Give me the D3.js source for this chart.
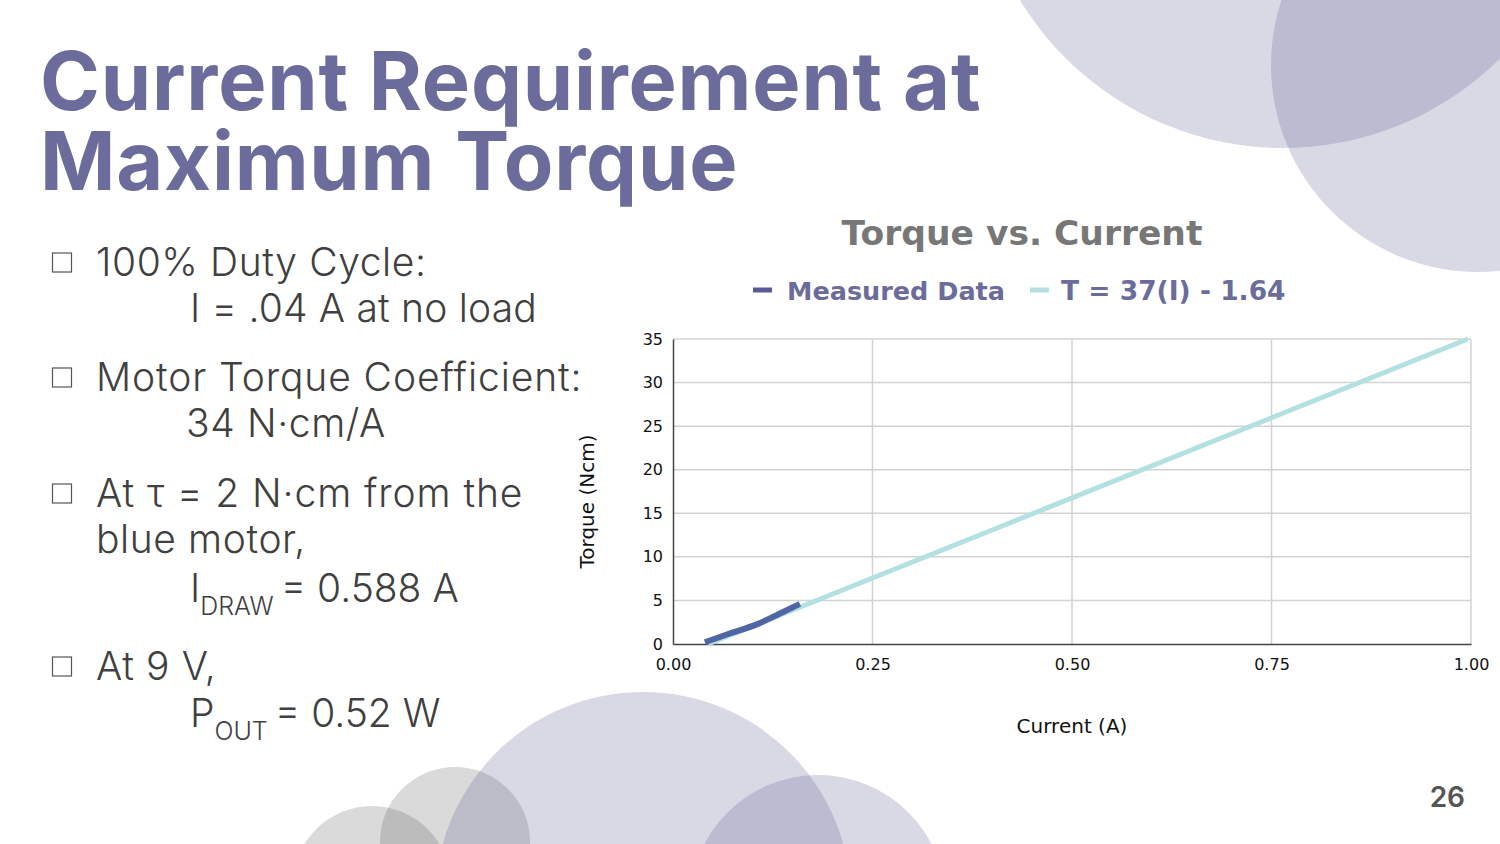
<html>
  <head>
    <meta charset="utf-8">
    <title>Current Requirement at Maximum Torque</title>
    <style>
      body { margin: 0; background: #fff; overflow: hidden; }
    </style>
  </head>
  <body>
  <script src="https://d3js.org/d3.v7.min.js" charset="utf-8"></script>
  <script type="text/javascript">

// measured points (current in A, torque in Ncm)
var measuredI = [0.040, 0.071, 0.105, 0.134, 0.159];
var measuredT = [0.2, 1.2, 2.25, 3.5, 4.6];

// trend line endpoints
var trendI = [0.044, 0.996];
var trendT = [0, 35];

var xTicks = [0, 0.25, 0.5, 0.75, 1.0];
var yTicks = [0, 5, 10, 15, 20, 25, 30, 35];

var seriesNames = ['Measured Data', 'T = 37(I) - 1.64'];
var seriesColors = ['#4f66a4', '#b3e0e0'];

var w = 1500, h = 844;

var svg = d3.select('body').append('svg')
    .attr('width', w)
    .attr('height', h);

// background decoration circles
var purple = 'rgb(84,84,139)', grey = 'rgb(70,70,70)';
var blobs = [
  {cx: 1283, cy: -160, r: 308, c: purple, o: 0.22},
  {cx: 1478, cy: 65, r: 207, c: purple, o: 0.22},
  {cx: 372, cy: 885, r: 79, c: grey, o: 0.2},
  {cx: 455, cy: 842, r: 75, c: grey, o: 0.2},
  {cx: 643, cy: 900, r: 208, c: purple, o: 0.22},
  {cx: 818, cy: 903, r: 128, c: purple, o: 0.22}
];
svg.selectAll('circle.blob')
    .data(blobs)
    .enter()
    .append('circle')
    .attr('class', 'blob')
    .attr('cx', function(d){ return d.cx; })
    .attr('cy', function(d){ return d.cy; })
    .attr('r', function(d){ return d.r; })
    .style('fill', function(d){ return d.c; })
    .style('opacity', function(d){ return d.o; });

// slide title
var titleFont = 'Inter, Roboto, sans-serif';
['Current Requirement at', 'Maximum Torque'].forEach(function(t, i){
  svg.append('text')
      .attr('x', 40).attr('y', 110 + i * 80)
      .style('font-family', titleFont).style('font-weight', 700)
      .style('font-size', '81px').style('letter-spacing', '0.8px')
      .style('fill', '#6c6c9c')
      .text(t);
});

// bullet text
var bodyFont = 'Inter, Roboto, sans-serif';
var lines = [
  {x: 96, y: 276, t: '100% Duty Cycle:', box: true},
  {x: 190, y: 322, t: 'I = .04 A at no load', ls: 0.2},
  {x: 96, y: 391, t: 'Motor Torque Coefficient:', box: true, ls: 0.9},
  {x: 186, y: 437, t: '34 N\u00B7cm/A'},
  {x: 96, y: 507, t: 'At \u03C4 = 2 N\u00B7cm from the', box: true, ls: 0.9},
  {x: 96, y: 553, t: 'blue motor,'},
  {x: 190, y: 602, t: 'I', sub: 'DRAW', rest: ' = 0.588 A', ls: 0},
  {x: 96, y: 680, t: 'At 9 V,', box: true},
  {x: 190, y: 727, t: 'P', sub: 'OUT', rest: ' = 0.52 W', ls: 0}
];
lines.forEach(function(d){
  var txt = svg.append('text')
      .attr('x', d.x).attr('y', d.y)
      .style('font-family', bodyFont).style('font-weight', 300)
      .style('font-size', '39px')
      .style('letter-spacing', (d.ls === undefined ? 0.6 : d.ls) + 'px')
      .style('fill', '#404040');
  txt.append('tspan').text(d.t);
  if (d.sub) {
    txt.append('tspan').attr('dy', 13).style('font-size', '25px').text(d.sub);
    txt.append('tspan').attr('dy', -13).attr('dx', -4).text(d.rest);
  }
  if (d.box) {
    svg.append('rect')
        .attr('x', 52.5).attr('y', d.y - 23)
        .attr('width', 19).attr('height', 19)
        .style('fill', 'none').style('stroke', '#555').style('stroke-width', 1.2);
  }
});

// page number
svg.append('text')
    .attr('x', 1465).attr('y', 807)
    .attr('text-anchor', 'end')
    .style('font-family', bodyFont).style('font-weight', 600)
    .style('font-size', '28px').style('fill', '#555')
    .text('26');

// chart
var plot = {left: 673, right: 1471, top: 339, bottom: 644};
var chartFont = 'DejaVu Sans, Verdana, sans-serif';

var x = d3.scaleLinear().domain([0, 1]).range([plot.left, plot.right]);
var y = d3.scaleLinear().domain([0, 35]).range([plot.bottom, plot.top]);

svg.append('text')
    .attr('x', 1022).attr('y', 245)
    .attr('text-anchor', 'middle')
    .style('font-family', chartFont).style('font-weight', 700)
    .style('font-size', '34.5px').style('fill', '#777')
    .text('Torque vs. Current');

// legend
var legendX = [753, 1030];
var legendTextX = [787, 1061];
var legendSize = ['25.5px', '26.5px'];
seriesNames.forEach(function(name, i){
  svg.append('line')
      .attr('x1', legendX[i]).attr('x2', legendX[i] + 19)
      .attr('y1', 290).attr('y2', 290)
      .style('stroke', i == 0 ? '#5a5a96' : seriesColors[1])
      .style('stroke-width', 5);
  svg.append('text')
      .attr('x', legendTextX[i]).attr('y', 300)
      .style('font-family', chartFont).style('font-weight', 700)
      .style('font-size', legendSize[i]).style('fill', '#6c6c9c')
      .text(name);
});

// gridlines
svg.append('g')
    .selectAll('line')
    .data(yTicks.slice(1))
    .enter()
    .append('line')
    .attr('x1', plot.left).attr('x2', plot.right)
    .attr('y1', function(d){ return y(d); })
    .attr('y2', function(d){ return y(d); })
    .style('stroke', '#d3d3d3').style('stroke-width', 1.5);
svg.append('g')
    .selectAll('line')
    .data(xTicks.slice(1))
    .enter()
    .append('line')
    .attr('y1', plot.top).attr('y2', plot.bottom)
    .attr('x1', function(d){ return x(d); })
    .attr('x2', function(d){ return x(d); })
    .style('stroke', '#d3d3d3').style('stroke-width', 1.5);

// axes
var xAxis = d3.axisBottom(x).tickValues(xTicks).tickFormat(d3.format('.2f')).tickSize(0).tickPadding(15);
var yAxis = d3.axisLeft(y).tickValues(yTicks).tickSize(0).tickPadding(10);

var gx = svg.append('g').attr('transform', 'translate(0,' + plot.bottom + ')').call(xAxis);
var gy = svg.append('g').attr('transform', 'translate(' + plot.left + ',0)').call(yAxis);
[gx, gy].forEach(function(g){
  g.select('.domain').style('stroke', '#444').style('stroke-width', 1.5);
  g.selectAll('text')
      .style('font-family', chartFont).style('font-size', '16px').style('fill', '#111');
});

svg.append('text')
    .attr('x', x(0.5)).attr('y', 733)
    .attr('text-anchor', 'middle')
    .style('font-family', chartFont).style('font-size', '20px').style('fill', '#111')
    .text('Current (A)');
svg.append('text')
    .attr('transform', 'translate(594,' + ((plot.top + plot.bottom) / 2 + 10) + ') rotate(-90)')
    .attr('text-anchor', 'middle')
    .style('font-family', chartFont).style('font-size', '20px').style('fill', '#111')
    .text('Torque (Ncm)');

// series
var line = d3.line()
    .x(function(d){ return x(d[0]); })
    .y(function(d){ return y(d[1]); })
    .curve(d3.curveMonotoneX);

svg.append('path')
    .datum(d3.zip(trendI, trendT))
    .attr('d', line)
    .style('fill', 'none')
    .style('stroke', seriesColors[1])
    .style('stroke-width', 5);

svg.append('path')
    .datum(d3.zip(measuredI, measuredT))
    .attr('d', line)
    .style('fill', 'none')
    .style('stroke', seriesColors[0])
    .style('stroke-width', 6);

  </script>
  </body>
</html>
